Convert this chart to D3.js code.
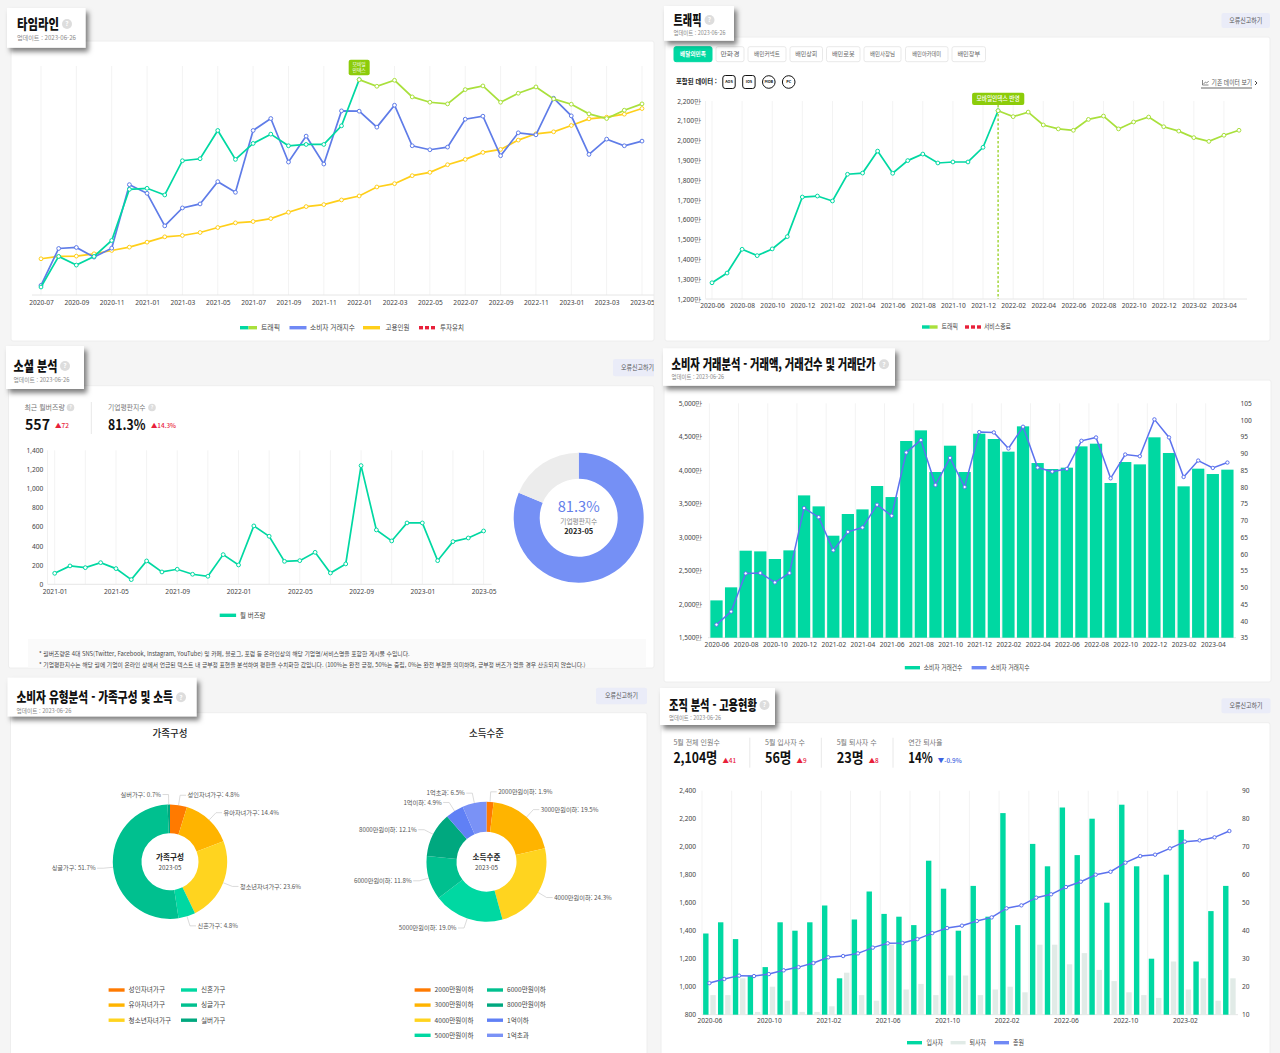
<!DOCTYPE html>
<html lang="ko">
<head>
<meta charset="utf-8">
<script src="https://cdn.jsdelivr.net/npm/d3@7"></script>
<style>
  html, body { margin: 0; background: #f5f5f5; }
  svg { display: block; font-family: "Noto Sans CJK KR", "Noto Sans", sans-serif; }
  .axis path, .axis line { display: none; }
  .axis text { font-family: "Noto Sans", sans-serif; font-size: 6.6px; fill: #444; }
</style>
</head>
<body>
<svg id="chart" width="1280" height="1053" viewBox="0 0 1280 1053"></svg>
<script>
const months = ['2020-06','2020-07','2020-08','2020-09','2020-10','2020-11','2020-12','2021-01','2021-02','2021-03','2021-04','2021-05','2021-06','2021-07','2021-08','2021-09','2021-10','2021-11','2021-12','2022-01','2022-02','2022-03','2022-04','2022-05','2022-06','2022-07','2022-08','2022-09','2022-10','2022-11','2022-12','2023-01','2023-02','2023-03','2023-04','2023-05'];
const timelineMonths = months.slice(1);
const buzzMonths = months.slice(7);
const pivot = '2022-01';

// timeline has no y axis, values are a relative index
const timelineTraffic = [24,116,90,116,164,318,321,301,404,410,495,408,456,484,449,453,453,509,648,628,646,596,580,575,618,629,580,607,626,590,574,545,531,556,575];
const timelineConsumer = [29,140,143,114,141,332,306,208,262,274,341,309,495,531,400,478,394,554,553,505,571,449,437,445,529,538,419,488,482,592,539,423,469,449,463];
const timelineHiring = [109,116,117,124,134,144,159,175,179,188,203,217,221,230,249,266,272,286,298,325,335,359,369,392,408,429,438,466,485,491,510,530,535,544,561];

const trafficValues = [1282,1331,1451,1419,1453,1515,1715,1720,1695,1830,1836,1947,1835,1899,1932,1887,1892,1892,1966,2151,2121,2144,2079,2059,2052,2107,2124,2059,2094,2119,2070,2048,2015,1996,2027,2052];
const trafficTabs = ['배달의민족','만화경','배민커넥트','배민상회','배민로봇','배민사장님','배민아카데미','배민장부'];
const deviceIcons = ['AOS','IOS','MOB','PC'];

const buzzValues = [115,192,174,226,164,49,244,129,157,105,84,310,202,610,502,240,247,334,118,213,1240,568,453,641,641,247,446,484,557];
const reputation = [81.3, 18.7];

const dealCounts = [2057,2252,2799,2789,2675,2804,3625,3461,3023,3347,3416,3765,3600,4437,4596,3974,4367,3974,4546,4467,4278,4656,4108,4019,4039,4357,4397,3810,4123,4088,4492,4258,3760,4024,3944,4009];
const dealIndex = [38.9,42.8,54.2,54.3,51.5,54.3,73.7,71,61.1,66.6,67.9,74.7,71.4,90.3,94,80.6,88.7,80,96.4,96.3,91.5,98,85.8,84.6,85.4,93.8,94.8,82.6,89.7,89.2,100.2,94.8,83,87.9,85.7,87.3];

const familyNames = ['성인자녀가구','유아자녀가구','청소년자녀가구','신혼가구','싱글가구','실버가구'];
const familyShares = [4.8,14.4,23.6,4.8,51.7,0.7];
const familyColors = ['#ff7a00','#ffb400','#ffd41f','#00d8a2','#00c08f','#00a87f'];
const incomeNames = ['2000만원이하','3000만원이하','4000만원이하','5000만원이하','6000만원이하','8000만원이하','1억이하','1억초과'];
const incomeShares = [1.9,19.5,24.3,19.0,11.8,12.1,4.9,6.5];
const incomeColors = ['#ff7a00','#ffb400','#ffd41f','#00d8a2','#00c08f','#00a87f','#6080f5','#7a92f6'];

const hires = [39,43,37,24,27,43,40,43,49,23,44,54,46,45,42,65,55,40,56,45,82,42,71,63,84,67,80,50,85,63,30,60,76,29,47,56];
const leavers = [17,17,23,11,20,15,11,11,13,25,17,15,35,19,21,17,24,24,17,19,20,18,35,35,28,32,26,22,18,17,16,29,19,23,15,23];
const headcount = [1026,1055,1079,1076,1090,1117,1140,1169,1210,1219,1238,1279,1310,1312,1340,1383,1419,1436,1469,1495,1560,1581,1636,1660,1712,1750,1800,1821,1886,1933,1943,1988,2036,2045,2067,2112];

const GREEN = '#00d8a2', LIME = '#a9e03c', BLUE = '#5f7ce8', SWATCH_BLUE = '#7089f5', YELLOW = '#ffcf1a', RED = '#e8203a', BADGE = '#8ccc0a';

const svg = d3.select('#chart');
const defs = svg.append('defs');
defs.append('filter').attr('id', 'boxShadow').attr('x', '-10%').attr('y', '-20%').attr('width', '125%').attr('height', '150%')
  .append('feDropShadow').attr('dx', 3).attr('dy', 4).attr('stdDeviation', 2.5).attr('flood-color', '#000').attr('flood-opacity', 0.5);
defs.append('clipPath').attr('id', 'leftClip').append('rect').attr('x', 0).attr('y', 0).attr('width', 654).attr('height', 1053);

// o.width squeezes the glyphs sideways to a given width, the screenshot is narrowed like that
function text(g, x, y, str, o = {}) {
  const t = g.append('text').attr('x', x).attr('y', y).text(str)
    .attr('dy', '0.35em')
    .attr('font-size', o.size || 7)
    .attr('font-weight', o.weight || 400)
    .attr('fill', o.fill || '#444')
    .attr('text-anchor', o.anchor || 'start');
  if (o.width) {
    const natural = t.node().getComputedTextLength();
    t.attr('transform', 'translate(' + x + ',0) scale(' + (o.width / natural) + ',1) translate(' + (-x) + ',0)');
  }
  return t;
}

function card(x0, y0, x1, y1) {
  svg.append('rect').attr('x', x0).attr('y', y0).attr('width', x1 - x0).attr('height', y1 - y0)
    .attr('rx', 2).attr('fill', '#fff').attr('stroke', '#eee');
}

function helpIcon(g, x, y, r) {
  g.append('circle').attr('cx', x).attr('cy', y).attr('r', r).attr('fill', '#ddd');
  text(g, x, y, '?', { size: r * 1.3, fill: '#fff', anchor: 'middle', weight: 700 });
}

function titleBox(x0, y0, x1, y1, title, titleWidth, tx, ty, helpX, subWidth, subGap) {
  const g = svg.append('g');
  g.append('rect').attr('x', x0).attr('y', y0).attr('width', x1 - x0).attr('height', y1 - y0)
    .attr('fill', '#fff').attr('filter', 'url(#boxShadow)');
  text(g, tx, ty, title, { size: 14, weight: 900, fill: '#111', width: titleWidth });
  helpIcon(g, helpX, ty, 5);
  text(g, tx, ty + subGap, '업데이트 : 2023-06-26', { size: 6, fill: '#888', width: subWidth });
}

function reportButton(x0, y0, x1, y1) {
  const g = svg.append('g');
  g.append('rect').attr('x', x0).attr('y', y0).attr('width', x1 - x0).attr('height', y1 - y0).attr('rx', 2).attr('fill', '#eaecf8');
  text(g, (x0 + x1) / 2, (y0 + y1) / 2, '오류신고하기', { size: 6.6, anchor: 'middle', fill: '#555', width: 33 });
  return g;
}

function swatch(g, x, y, w, colors) {
  const seg = w / colors.length;
  colors.forEach((c, i) => g.append('rect').attr('x', x + i * seg).attr('y', y - 1.7).attr('width', seg).attr('height', 3.4).attr('fill', c));
}

function redDash(g, x, y) {
  [0, 6, 12].forEach(d => g.append('rect').attr('x', x + d).attr('y', y - 1.7).attr('width', 4).attr('height', 3.4).attr('fill', RED));
}

function vGrid(g, xs, top, bottom) {
  g.selectAll('line.grid').data(xs).enter().append('line').attr('class', 'grid')
    .attr('x1', d => d).attr('x2', d => d).attr('y1', top).attr('y2', bottom)
    .attr('stroke', '#f3f3f3');
}

function baseline(g, x0, x1, y) {
  g.append('line').attr('x1', x0).attr('x2', x1).attr('y1', y).attr('y2', y).attr('stroke', '#e6e6e6');
}

function everyNth(list, n) {
  return list.filter((d, i) => i % n === 0);
}

function bottomAxis(g, x, ticks, y) {
  g.append('g').attr('class', 'axis').attr('transform', 'translate(0,' + y + ')')
    .call(d3.axisBottom(x).tickValues(ticks).tickSize(0).tickPadding(0));
}

function sideAxis(g, axis, xPos) {
  g.append('g').attr('class', 'axis').attr('transform', 'translate(' + xPos + ',0)').call(axis.tickSize(0).tickPadding(0));
}

function lineSeries(g, x, y, keys, values, color, width = 1.7, r = 1.9) {
  const line = d3.line().x((d, i) => x(keys[i])).y(d => y(d));
  g.append('path').attr('d', line(values)).attr('fill', 'none').attr('stroke', color).attr('stroke-width', width);
  g.selectAll(null).data(values).enter().append('circle')
    .attr('cx', (d, i) => x(keys[i])).attr('cy', d => y(d)).attr('r', r)
    .attr('fill', '#fff').attr('stroke', color).attr('stroke-width', 1);
}

// traffic line turns lime once the mobile index source starts
function splitLine(g, x, y, keys, values, width) {
  const cut = keys.indexOf(pivot);
  lineSeries(g, x, y, keys.slice(0, cut + 1), values.slice(0, cut + 1), GREEN, width);
  lineSeries(g, x, y, keys.slice(cut), values.slice(cut), LIME, width);
}

function kpi(g, x, label, value, valueWidth, delta, deltaColor, y, up = true) {
  text(g, x, y, label, { size: 7, fill: '#777' });
  text(g, x, y + 16, value, { size: 14.5, weight: 700, fill: '#111', width: valueWidth });
  text(g, x + valueWidth + 5, y + 18, (up ? '▲' : '▼') + delta, { size: 6.4, fill: deltaColor, weight: 500 });
}

function divider(g, x, y0, y1) {
  g.append('line').attr('x1', x).attr('x2', x).attr('y1', y0).attr('y2', y1).attr('stroke', '#e8e8e8');
}

/* ---------- timeline ---------- */
card(11, 41, 654, 341);
{
  const g = svg.append('g').attr('clip-path', 'url(#leftClip)');
  const x = d3.scalePoint().domain(timelineMonths).range([41, 642]);
  const y = d3.scaleLinear().domain([0, 689]).range([295, 66]);
  const ticks = everyNth(timelineMonths, 2);
  vGrid(g, ticks.map(x), 66, 295);
  baseline(g, 32, 654, 295);
  bottomAxis(g, x, ticks, 300);
  lineSeries(g, x, y, timelineMonths, timelineHiring, YELLOW);
  lineSeries(g, x, y, timelineMonths, timelineConsumer, BLUE);
  splitLine(g, x, y, timelineMonths, timelineTraffic);
  const bx = x(pivot), by = y(timelineTraffic[timelineMonths.indexOf(pivot)]);
  g.append('rect').attr('x', bx - 10.5).attr('y', by - 20).attr('width', 21).attr('height', 15.5).attr('rx', 2).attr('fill', BADGE);
  text(g, bx, by - 15.8, '모바일', { size: 4.8, fill: '#fff', anchor: 'middle' });
  text(g, bx, by - 9.5, '인덱스', { size: 4.8, fill: '#fff', anchor: 'middle' });
  swatch(g, 240, 327.7, 17, [GREEN, LIME]);
  text(g, 261, 327.7, '트래픽', { width: 19 });
  swatch(g, 289.5, 327.7, 17, [SWATCH_BLUE]);
  text(g, 310, 327.7, '소비자 거래지수', { width: 45 });
  swatch(g, 363, 327.7, 17, [YELLOW]);
  text(g, 385.5, 327.7, '고용인원', { width: 24 });
  redDash(g, 419, 327.7);
  text(g, 440, 327.7, '투자유치', { width: 24 });
}
titleBox(7, 8, 85.5, 47.7, '타임라인', 42, 17, 24, 67, 59, 14);

/* ---------- traffic ---------- */
card(665, 37, 1270, 341);
{
  const g = svg.append('g');
  const x = d3.scalePoint().domain(months).range([712, 1239]);
  const y = d3.scaleLinear().domain([1200, 2200]).range([299, 101]);
  const ticks = everyNth(months, 2);
  vGrid(g, ticks.map(x), 101, 299);
  baseline(g, 705.5, 1247, 299);
  g.append('line').attr('x1', 705.5).attr('x2', 705.5).attr('y1', 101).attr('y2', 299).attr('stroke', '#f0f0f0');
  sideAxis(g, d3.axisLeft(y).tickValues(d3.range(1200, 2201, 100)).tickFormat(d => d3.format(',')(d) + '만'), 701);
  bottomAxis(g, x, ticks, 303);
  const px = x(pivot);
  g.append('line').attr('x1', px).attr('x2', px).attr('y1', 105).attr('y2', 299)
    .attr('stroke', BADGE).attr('stroke-width', 1.2).attr('stroke-dasharray', '2.5 2');
  splitLine(g, x, y, months, trafficValues);
  g.append('rect').attr('x', px - 26).attr('y', 92.7).attr('width', 52.2).attr('height', 12.3).attr('rx', 2).attr('fill', BADGE);
  text(g, px, 98.8, '모바일인덱스 반영', { size: 6.4, fill: '#fff', anchor: 'middle', width: 43, weight: 500 });

  const tabBounds = [[674, 712], [716, 744], [748, 786], [790, 822.5], [826.5, 860], [864, 901], [905.5, 948], [952, 985.5]];
  trafficTabs.forEach((name, i) => {
    const [a, b] = tabBounds[i];
    g.append('rect').attr('x', a).attr('y', 46.7).attr('width', b - a).attr('height', 15).attr('rx', 2)
      .attr('fill', i === 0 ? GREEN : '#fff').attr('stroke', i === 0 ? GREEN : '#e9e9e9');
    text(g, (a + b) / 2, 54, name, { size: 6, anchor: 'middle', fill: i === 0 ? '#fff' : '#666', weight: i === 0 ? 700 : 400, width: (b - a) * 0.68 });
  });

  text(g, 676, 81.5, '포함된 데이터 :', { size: 7, weight: 700, fill: '#222', width: 41 });
  deviceIcons.forEach((name, i) => {
    const cx = 729 + i * 19.9;
    if (i < 2) g.append('rect').attr('x', cx - 6.2).attr('y', 75.5).attr('width', 12.4).attr('height', 13).attr('rx', 2.5).attr('fill', '#fff').attr('stroke', '#111');
    else g.append('circle').attr('cx', cx).attr('cy', 82).attr('r', 6.3).attr('fill', '#fff').attr('stroke', '#111');
    text(g, cx, 81.3, name, { size: 3.8, anchor: 'middle', weight: 700, fill: '#111' });
  });

  g.append('path').attr('d', 'M1202.5 80 v5 h6 M1203.5 84 l2 -2 l1.2 1 l2 -2').attr('fill', 'none').attr('stroke', '#555').attr('stroke-width', 0.7);
  text(g, 1211.6, 83, '기존 데이터 보기', { size: 6.6, fill: '#555', width: 40.5 });
  g.append('line').attr('x1', 1201).attr('x2', 1252).attr('y1', 88).attr('y2', 88).attr('stroke', '#666');
  g.append('path').attr('d', 'M1255 81 l2 2 l-2 2').attr('fill', 'none').attr('stroke', '#333').attr('stroke-width', 0.9);

  swatch(g, 922, 327, 15.6, [GREEN, LIME]);
  text(g, 941.5, 327, '트래픽', { width: 16.5 });
  redDash(g, 965, 327);
  text(g, 984, 327, '서비스종료', { width: 27 });
}
titleBox(664, 6, 734, 40.7, '트래픽', 28, 673.5, 20, 709.5, 52, 12.5);
reportButton(1221.5, 13, 1270, 28);

/* ---------- social ---------- */
card(8.5, 385.7, 654, 668);
{
  const g = svg.append('g').attr('clip-path', 'url(#leftClip)');
  const x = d3.scalePoint().domain(buzzMonths).range([54.7, 483.6]);
  const y = d3.scaleLinear().domain([0, 1400]).range([584.3, 450.3]);
  vGrid(g, everyNth(buzzMonths, 2).map(x), 450.3, 584.3);
  baseline(g, 47.5, 491.6, 584.3);
  g.append('line').attr('x1', 47.5).attr('x2', 47.5).attr('y1', 450.3).attr('y2', 584.3).attr('stroke', '#f0f0f0');
  sideAxis(g, d3.axisLeft(y).tickValues(d3.range(0, 1401, 200)).tickFormat(d3.format(',')), 43.3);
  bottomAxis(g, x, everyNth(buzzMonths, 4), 589.5);
  lineSeries(g, x, y, buzzMonths, buzzValues, GREEN);
  swatch(g, 219.7, 615.3, 16.4, [GREEN]);
  text(g, 240, 615.3, '월 버즈량', { width: 25.6 });

  text(g, 24.4, 407.5, '최근 월버즈량', { size: 7, fill: '#777', width: 40.5 });
  helpIcon(g, 70.5, 407.5, 3.8);
  text(g, 25, 424.5, '557', { size: 14.5, weight: 700, fill: '#111', width: 25 });
  text(g, 55, 426, '▲72', { size: 6.4, fill: RED, weight: 500, width: 14 });
  divider(g, 91.3, 402, 434);
  text(g, 108, 407.5, '기업평판지수', { size: 7, fill: '#777', width: 37.5 });
  helpIcon(g, 152, 407.5, 3.8);
  text(g, 108, 424.5, '81.3%', { size: 14.5, weight: 700, fill: '#111', width: 37.5 });
  text(g, 151, 426, '▲14.3%', { size: 6.4, fill: RED, weight: 500, width: 25 });

  const arc = d3.arc().innerRadius(39).outerRadius(65);
  const pie = d3.pie().sort(null);
  const donut = g.append('g').attr('transform', 'translate(578.7,517.7)');
  donut.selectAll('path').data(pie(reputation)).enter().append('path')
    .attr('d', arc).attr('fill', (d, i) => i === 0 ? '#7590f5' : '#ececec');
  text(donut, 0, -11, reputation[0] + '%', { size: 14, fill: '#6480ea', anchor: 'middle', width: 42 });
  text(donut, 0, 4, '기업평판지수', { size: 7, fill: '#888', anchor: 'middle', width: 37 });
  text(donut, 0, 14, '2023-05', { size: 7, weight: 700, fill: '#222', anchor: 'middle', width: 29 });

  g.append('rect').attr('x', 28).attr('y', 639).attr('width', 618).attr('height', 28.7).attr('fill', '#fafafa');
  text(g, 39, 654.2, '* 월버즈량은 4대 SNS(Twitter, Facebook, Instagram, YouTube) 및 카페, 블로그, 포럼 등 온라인상의 해당 기업명/서비스명을 포함한 게시물 수입니다.', { size: 6, fill: '#444', width: 371 });
  text(g, 39, 665, '* 기업평판지수는 해당 월에 기업이 온라인 상에서 언급된 텍스트 내 긍부정 표현을 분석하여 평판을 수치화한 값입니다. (100%는 완전 긍정, 50%는 중립, 0%는 완전 부정을 의미하며, 긍부정 버즈가 없을 경우 산출되지 않습니다.)', { size: 6, fill: '#444', width: 548 });
}
titleBox(6, 346, 84, 389, '소셜 분석', 44, 13.5, 366, 65, 56, 13.5);
reportButton(613, 359, 662, 376.3).attr('clip-path', 'url(#leftClip)');

/* ---------- consumer deals ---------- */
card(664, 380, 1271, 682);
{
  const g = svg.append('g');
  const x = d3.scaleBand().domain(months).range([709.2, 1234.7]).paddingInner(0.16).paddingOuter(0.08);
  const y = d3.scaleLinear().domain([1500, 5000]).range([637.7, 403.3]);
  const yIndex = d3.scaleLinear().domain([35, 105]).range([637.7, 403.3]);
  const mid = d => x(d) + x.bandwidth() / 2;
  vGrid(g, everyNth(months, 2).map(d => x(d) - 1), 403.3, 637.7);
  baseline(g, 708, 1236, 637.7);
  sideAxis(g, d3.axisLeft(y).tickValues(d3.range(1500, 5001, 500)).tickFormat(d => d3.format(',')(d) + '만'), 702.5);
  sideAxis(g, d3.axisRight(yIndex).tickValues(d3.range(35, 106, 5)), 1240.5);
  const tickScale = d3.scalePoint().domain(months).range([mid(months[0]), mid(months[35])]);
  bottomAxis(g, tickScale, everyNth(months, 2), 642.3);
  g.selectAll('rect.deal').data(dealCounts).enter().append('rect').attr('class', 'deal')
    .attr('x', (d, i) => x(months[i])).attr('width', x.bandwidth())
    .attr('y', d => y(d)).attr('height', d => y(1500) - y(d)).attr('fill', GREEN);
  lineSeries(g, tickScale, yIndex, months, dealIndex, '#5c72ee', 1.5, 1.7);
  swatch(g, 904.8, 667.7, 15.2, [GREEN]);
  text(g, 923.7, 667.7, '소비자 거래건수', { width: 38.8 });
  swatch(g, 971.6, 667.7, 15, [SWATCH_BLUE]);
  text(g, 990.6, 667.7, '소비자 거래지수', { width: 39 });
}
titleBox(663, 348.3, 895, 385.7, '소비자 거래분석 - 거래액, 거래건수 및 거래단가', 204, 671.5, 364.3, 884, 52.5, 12.7);

/* ---------- consumer types ---------- */
function donutChart(g, cx, cy, inner, outer, names, shares, colors, title) {
  const pie = d3.pie().sort(null);
  const arc = d3.arc().innerRadius(inner).outerRadius(outer);
  const slices = pie(shares);
  const d = g.append('g').attr('transform', 'translate(' + cx + ',' + cy + ')');
  d.selectAll('path').data(slices).enter().append('path').attr('d', arc).attr('fill', (s, i) => colors[i]);
  slices.forEach((s, i) => {
    const a = (s.startAngle + s.endAngle) / 2;
    const p0 = d3.pointRadial(a, outer);
    const p1 = d3.pointRadial(a, outer + 10);
    const side = p1[0] >= 0 ? 1 : -1;
    const p2 = [p1[0] + side * 6, p1[1]];
    d.append('path').attr('d', d3.line()([p0, p1, p2])).attr('fill', 'none').attr('stroke', '#ccc').attr('stroke-width', 0.7);
    text(d, p2[0] + side * 1.5, p2[1], names[i] + ': ' + shares[i].toFixed(1) + '%', { size: 6.2, anchor: side > 0 ? 'start' : 'end', fill: '#555' });
  });
  text(d, 0, -5, title, { size: 8, weight: 700, fill: '#222', anchor: 'middle', width: 28 });
  text(d, 0, 6, '2023-05', { size: 6, fill: '#444', anchor: 'middle', width: 23 });
}

function donutLegend(g, x0, names, colors, rows) {
  names.forEach((name, i) => {
    const col = Math.floor(i / rows), row = i % rows;
    const x = x0 + col * 72.4, yPos = 990 + row * 15.1;
    swatch(g, x, yPos, 16, [colors[i]]);
    text(g, x + 20, yPos, name, { size: 6.6, fill: '#444' });
  });
}

card(10.5, 712.7, 647, 1060);
{
  const g = svg.append('g');
  text(g, 170, 734, '가족구성', { size: 10, weight: 500, fill: '#222', anchor: 'middle', width: 35 });
  text(g, 486.5, 734, '소득수준', { size: 10, weight: 500, fill: '#222', anchor: 'middle', width: 35 });
  donutChart(g, 170, 861.7, 28.5, 57.2, familyNames, familyShares, familyColors, '가족구성');
  donutChart(g, 486.5, 861.7, 30, 60, incomeNames, incomeShares, incomeColors, '소득수준');
  donutLegend(g, 108.6, familyNames, familyColors, 3);
  donutLegend(g, 414.6, incomeNames, incomeColors, 4);
}
titleBox(7.6, 677.7, 196.5, 716.3, '소비자 유형분석 - 가족구성 및 소득', 156.5, 16.5, 697.3, 181, 55, 13.7);
reportButton(596, 687.7, 647, 704.3);

/* ---------- organisation ---------- */
card(661, 722.7, 1270, 1060);
{
  const g = svg.append('g');
  const x = d3.scaleBand().domain(months).range([702, 1236.8]);
  const yTotal = d3.scaleLinear().domain([800, 2400]).range([1014.7, 790.7]);
  const yFlow = d3.scaleLinear().domain([10, 90]).range([1014.7, 790.7]);
  const mid = d => x(d) + x.bandwidth() / 2;
  vGrid(g, everyNth(months, 2).map(x), 790.7, 1014.7);
  baseline(g, 702, 1238, 1014.7);
  sideAxis(g, d3.axisLeft(yTotal).tickValues(d3.range(800, 2401, 200)).tickFormat(d3.format(',')), 696);
  sideAxis(g, d3.axisRight(yFlow).tickValues(d3.range(10, 91, 10)), 1242);
  const tickScale = d3.scalePoint().domain(months).range([mid(months[0]), mid(months[35])]);
  bottomAxis(g, tickScale, everyNth(months, 4), 1018.6);
  g.selectAll('rect.leave').data(leavers).enter().append('rect').attr('class', 'leave')
    .attr('x', (d, i) => mid(months[i]) + 0.9).attr('width', 5.4)
    .attr('y', d => yFlow(d)).attr('height', d => yFlow(10) - yFlow(d)).attr('fill', '#e1ebe7');
  g.selectAll('rect.hire').data(hires).enter().append('rect').attr('class', 'hire')
    .attr('x', (d, i) => mid(months[i]) - 6.3).attr('width', 5.4)
    .attr('y', d => yFlow(d)).attr('height', d => yFlow(10) - yFlow(d)).attr('fill', GREEN);
  lineSeries(g, tickScale, yTotal, months, headcount, '#5c72ee', 1.5, 1.7);

  kpi(g, 673.4, '5월 전체 인원수', '2,104명', 44, '41', RED, 742.3);
  divider(g, 749.8, 737.7, 767.7);
  kpi(g, 765, '5월 입사자 수', '56명', 26.5, '9', RED, 742.3);
  divider(g, 821.3, 737.7, 767.7);
  kpi(g, 836.7, '5월 퇴사자 수', '23명', 27, '8', RED, 742.3);
  divider(g, 893, 737.7, 767.7);
  kpi(g, 908.3, '연간 퇴사율', '14%', 24.5, '-0.9%', '#3c62e0', 742.3, false);

  swatch(g, 907, 1042.7, 15, [GREEN]);
  text(g, 926.5, 1042.7, '입사자', { width: 16.5 });
  swatch(g, 950.6, 1042.7, 15, ['#e1ebe7']);
  text(g, 969.6, 1042.7, '퇴사자', { width: 16.5 });
  swatch(g, 994, 1042.7, 15, [SWATCH_BLUE]);
  text(g, 1013, 1042.7, '총원', { width: 11 });
}
titleBox(660, 688, 775, 725, '조직 분석 - 고용현황', 88, 669, 705, 764.5, 52, 13);
reportButton(1221.5, 698.3, 1270.5, 713.3);
</script>
</body>
</html>
